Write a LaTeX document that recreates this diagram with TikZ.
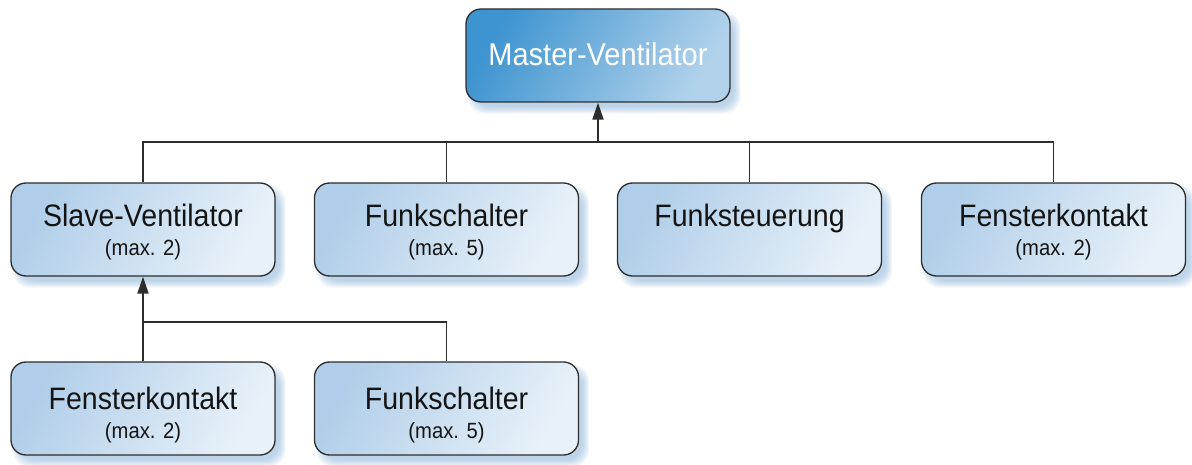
\documentclass[tikz,border=0pt]{standalone}
\usepackage{fontspec}
\setmainfont{Liberation Sans}[FakeStretch=0.92]
\usetikzlibrary{arrows.meta}
\definecolor{boxA}{RGB}{176,206,233}
\definecolor{boxB}{RGB}{232,241,249}
\definecolor{mastA}{RGB}{62,148,208}
\definecolor{mastB}{RGB}{178,210,235}
\definecolor{edge}{RGB}{45,45,45}
\definecolor{txt}{RGB}{20,20,20}
\definecolor{shadowblue}{RGB}{140,180,216}
\pgfdeclarelayer{bg}
\pgfsetlayers{bg,main}
\newcommand\blurshadow[1]{%
  \begin{pgfonlayer}{bg}
  \foreach \k in {0,...,7}{%
    \pgfmathsetmacro\e{\k-3}%
    \fill[shadowblue, opacity=0.1, rounded corners=17pt]
      ([shift={(6-\e,7-\e)}]#1.north west) rectangle ([shift={(6+\e,7+\e)}]#1.south east);
  }
  \end{pgfonlayer}}
\tikzset{
  unitbox/.style={draw=edge, line width=1.3pt, rounded corners=15pt,
    minimum width=264pt, minimum height=93pt, inner sep=0pt,
    left color=boxA, right color=boxB, shading angle=60},
  masterbox/.style={unitbox, left color=mastA, right color=mastB, shading angle=60},
  mainlbl/.style={anchor=base, inner sep=0pt, text=txt, font=\fontsize{31}{34}\selectfont},
  sublbl/.style={anchor=base, inner sep=0pt, text=txt, font=\fontsize{22}{25}\selectfont},
  conn/.style={draw=edge, line width=1.8pt},
  arr/.style={conn, -{Triangle[length=17pt,width=11pt]}}
}
\begin{document}
\begin{tikzpicture}[x=1pt,y=-1pt]
\useasboundingbox (0,0) rectangle (1192,465);
% boxes
\node[masterbox] (master) at (598,55.5) {};
\node[unitbox] (slave) at (143,229.5) {};
\node[unitbox] (funk1) at (446.5,229.5) {};
\node[unitbox] (steu) at (749.5,229.5) {};
\node[unitbox] (fen1) at (1053.5,229.5) {};
\node[unitbox] (fen2) at (143,408.5) {};
\node[unitbox] (funk2) at (446.5,408.5) {};
\blurshadow{master}
\blurshadow{slave}
\blurshadow{funk1}
\blurshadow{steu}
\blurshadow{fen1}
\blurshadow{fen2}
\blurshadow{funk2}
% texts
\node[mainlbl, text=white, font=\fontsize{31.5}{34}\selectfont] (tmaster) at (598,65.5) {Master-Ventilator};
\node[mainlbl] (tslave) at (143,226.5) {Slave-Ventilator};
\node[sublbl] (sslave) at (143,256) {(max. 2)};
\node[mainlbl] (tfunk1) at (446.5,226.5) {Funkschalter};
\node[sublbl] (sfunk1) at (446.5,256) {(max. 5)};
\node[mainlbl] (tsteu) at (749.5,226.5) {Funksteuerung};
\node[mainlbl] (tfen1) at (1053.5,226.5) {Fensterkontakt};
\node[sublbl] (sfen1) at (1053.5,256) {(max. 2)};
\node[mainlbl] (tfen2) at (143,409) {Fensterkontakt};
\node[sublbl] (sfen2) at (143,438) {(max. 2)};
\node[mainlbl] (tfunk2) at (446.5,409) {Funkschalter};
\node[sublbl] (sfunk2) at (446.5,438) {(max. 5)};
% connectors
\path (master.south) ++(0,39) coordinate (bus1);
\path (slave.south) ++(0,45) coordinate (bus2);
\draw[conn] (slave.north) |- (bus1) -| (fen1.north);
\draw[conn] (funk1.north) -- (funk1.north |- bus1);
\draw[conn] (steu.north) -- (steu.north |- bus1);
\draw[arr] (bus1) -- (master.south);
\draw[conn] (fen2.north) -- (bus2) -| (funk2.north);
\draw[arr] (bus2) -- (slave.south);
\end{tikzpicture}
\end{document}
